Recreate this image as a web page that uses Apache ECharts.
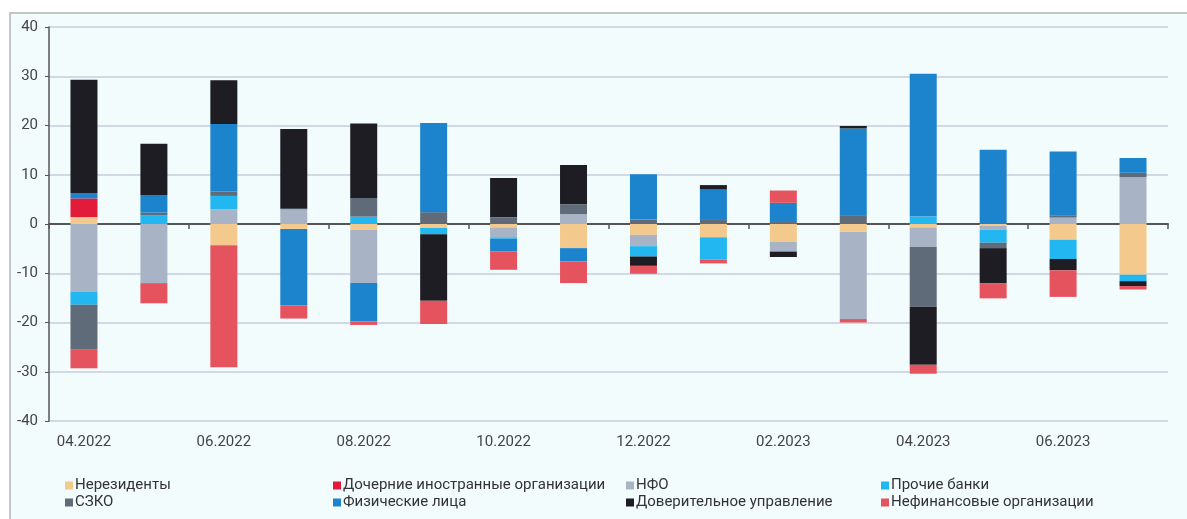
<!DOCTYPE html>
<html>
<head>
<meta charset="utf-8">
<script src="https://cdn.jsdelivr.net/npm/echarts@6/dist/echarts.min.js"></script>
<style>
  html, body { margin: 0; padding: 0; background: #fff; }
  #chart { width: 1187px; height: 519px; }
</style>
</head>
<body>
<div id="chart"></div>
<script>
// months on the axis
var months = ['04.2022', '05.2022', '06.2022', '07.2022', '08.2022', '09.2022', '10.2022', '11.2022',
  '12.2022', '01.2023', '02.2023', '03.2023', '04.2023', '05.2023', '06.2023', '07.2023'];

// values, one array per group
var nonResidents = [1.4, 0, -4.3, -1.0, -1.2, -0.8, -0.7, -4.9, -2.2, -2.7, -3.6, -1.6, -0.7, -0.4, -3.2, -10.3];
var foreignSubs  = [3.8, 0, 0, 0, 0, 0, 0, 0, 0, 0, 0, 0, 0, 0, 0, 0];
var nfo          = [-13.7, -12.0, 3.0, 2.9, -10.8, 0, -2.0, 2.0, -2.3, 0, -2.0, -17.7, -3.9, -0.8, 1.3, 9.5];
var otherBanks   = [-2.7, 1.8, 2.7, 0.2, 1.5, -1.3, -0.3, 0, -2.1, -4.5, 0, 0, 1.5, -2.6, -3.9, -1.3];
var szko         = [-9.0, 0.5, 0.9, 0, 3.8, 2.4, 1.35, 2.0, 0.9, 1.0, 0.4, 1.8, -12.2, -1.1, 0.4, 0.9];
var households   = [1.1, 3.6, 13.7, -15.5, -7.8, 18.1, -2.6, -2.7, 9.2, 6.0, 3.9, 17.6, 29.0, 15.1, 13.0, 3.0];
var trust        = [23.0, 10.4, 8.9, 16.2, 15.1, -13.5, 8.0, 8.0, -1.9, 0.9, -1.1, 0.5, -11.8, -7.1, -2.3, -1.0];
var nonFinancial = [-3.9, -4.1, -24.8, -2.7, -0.7, -4.7, -3.7, -4.4, -1.6, -0.8, 2.5, -0.7, -1.8, -3.1, -5.4, -0.7];

var yTicks = { min: -40, max: 40, step: 10 };

var groups = [
  { name: 'Нерезиденты', data: nonResidents, color: '#f3c98d' },
  { name: 'Дочерние иностранные организации', data: foreignSubs, color: '#e31b3b' },
  { name: 'НФО', data: nfo, color: '#a8b4c5' },
  { name: 'Прочие банки', data: otherBanks, color: '#22b7f0' },
  { name: 'СЗКО', data: szko, color: '#5f6b79' },
  { name: 'Физические лица', data: households, color: '#1b84cc' },
  { name: 'Доверительное управление', data: trust, color: '#1d1d23' },
  { name: 'Нефинансовые организации', data: nonFinancial, color: '#e5535f' }
];

var font = 'Roboto, "Noto Sans", sans-serif';

var series = groups.map(function (g) {
  return {
    name: g.name,
    type: 'bar',
    stack: 'total',
    barWidth: 27,
    itemStyle: { color: g.color },
    data: g.data
  };
});

function legendCol(left, names) {
  return {
    orient: 'vertical',
    left: left,
    top: 473,
    itemWidth: 8,
    itemHeight: 8,
    itemGap: 2,
    icon: 'rect',
    selectedMode: false,
    textStyle: { color: '#333', fontSize: 15, fontFamily: font, padding: [0, 0, 0, -3] },
    data: names
  };
}

var myChart = echarts.init(document.getElementById('chart'));
var option = {
  backgroundColor: '#fff',
  animation: false,
  graphic: [{
    type: 'rect',
    z: -10,
    silent: true,
    shape: { x: 10, y: 13, width: 1190, height: 520 },
    style: { fill: '#f2fcfd', stroke: '#b4b4b4', lineWidth: 1.5 }
  }],
  grid: { left: 49, right: 19, top: 27, bottom: 98 },
  legend: [
    legendCol(60, ['Нерезиденты', 'СЗКО']),
    legendCol(328, ['Дочерние иностранные организации', 'Физические лица']),
    legendCol(621, ['НФО', 'Доверительное управление']),
    legendCol(876, ['Прочие банки', 'Нефинансовые организации'])
  ],
  xAxis: [
    {
      type: 'category',
      data: months,
      position: 'bottom',
      axisLine: { onZero: true, lineStyle: { color: '#555', width: 2 } },
      axisTick: { show: true, interval: 1, length: 5, lineStyle: { color: '#555', width: 1.5 } },
      axisLabel: { show: false },
      splitLine: { show: false }
    },
    {
      type: 'category',
      data: months,
      position: 'bottom',
      axisLine: { show: false, onZero: false },
      axisTick: { show: false },
      axisLabel: { interval: 1, margin: 14, color: '#444', fontSize: 15, fontFamily: font },
      splitLine: { show: false }
    }
  ],
  yAxis: {
    type: 'value',
    min: yTicks.min,
    max: yTicks.max,
    interval: yTicks.step,
    axisLine: { show: true, lineStyle: { color: '#555', width: 1.5 } },
    axisTick: { show: true, length: 4, lineStyle: { color: '#555' } },
    axisLabel: { color: '#444', fontSize: 15, fontFamily: font, margin: 11 },
    splitLine: { lineStyle: { color: '#d0d9e4', width: 2 } }
  },
  series: series
};
myChart.setOption(option);
</script>
</body>
</html>
